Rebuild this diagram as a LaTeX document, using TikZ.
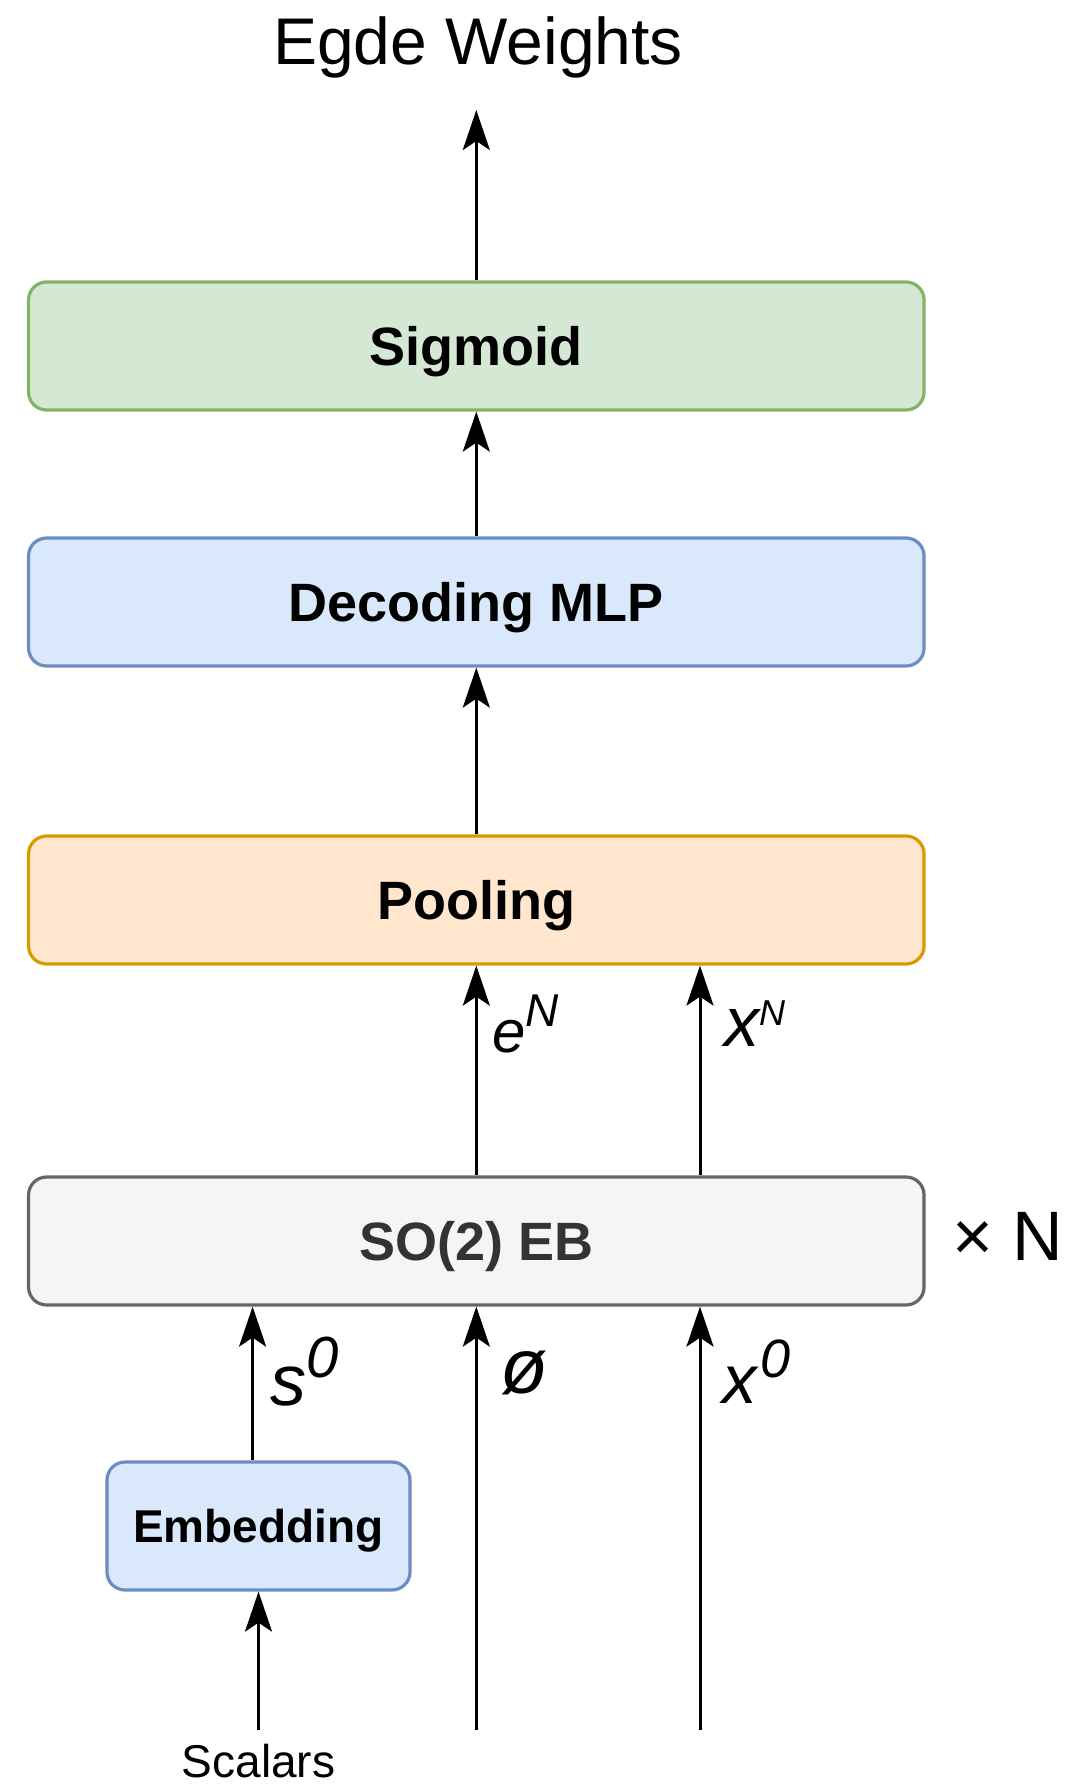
\documentclass[tikz,border=0pt]{standalone}
\usepackage{fontspec}
\setmainfont{Liberation Sans}
\usetikzlibrary{arrows.meta,calc}

\definecolor{greenFill}{HTML}{D5E8D4}
\definecolor{greenLine}{HTML}{82B366}
\definecolor{blueFill}{HTML}{DAE8FC}
\definecolor{blueLine}{HTML}{6C8EBF}
\definecolor{orangeFill}{HTML}{FFE6CC}
\definecolor{orangeLine}{HTML}{D79B00}
\definecolor{grayFill}{HTML}{F5F5F5}
\definecolor{grayLine}{HTML}{666666}
\definecolor{grayText}{HTML}{333333}

\newcommand{\fsz}[1]{\fontsize{#1}{#1}\selectfont}

\begin{document}
\begin{tikzpicture}[x=1pt,y=-1pt,
  block/.style={draw, rounded corners=18pt, line width=3.2pt,
    minimum width=895.5pt, minimum height=128pt, inner sep=0pt,
    text height=39pt, text depth=0pt, font=\fsz{54}\bfseries},
  smallblock/.style={block, minimum width=303pt, text height=33pt,
    font=\fsz{46}\bfseries},
  flow/.style={line width=3pt, -{Stealth[length=40pt,width=27pt,inset=9pt]}},
  lbl/.style={anchor=base west, inner sep=0pt, outer sep=0pt},
  plain/.style={anchor=base, inner sep=0pt, outer sep=0pt}
]
\useasboundingbox (0,0) rectangle (1066,1784);

% processing blocks
\node[block, fill=greenFill,  draw=greenLine]  (sig)  at (476.3,346)  {Sigmoid};
\node[block, fill=blueFill,   draw=blueLine]   (mlp)  at (476.3,602)  {Decoding MLP};
\node[block, fill=orangeFill, draw=orangeLine] (pool) at (476.3,900)  {Pooling};
\node[block, fill=grayFill,   draw=grayLine, text=grayText] (so) at (476.3,1241) {SO(2) EB};
\node[smallblock, fill=blueFill, draw=blueLine] (emb) at (258.5,1526) {Embedding};

% title, repetition count and input caption
\node[plain, font=\fsz{66}] (title) at (478,65) {Egde Weights};
\node[lbl, font=\fsz{70}] (rep) at (952,1260) {× N};
\node[plain, font=\fsz{46}] (scal) at (258.5,1777) {Scalars};

% column positions and free arrow ends
\coordinate (colL) at (252.6,0);
\coordinate (colR) at (700,0);
\coordinate (outT) at (476.3,110);
\coordinate (inS)  at (258.5,1730);
\coordinate (inM)  at (476.3,1730);
\coordinate (inR)  at (700,1730);

% connectors
\draw[flow] (sig.north) -- (outT);
\draw[flow] (mlp.north) -- (sig.south);
\draw[flow] (pool.north) -- (mlp.south);
\draw[flow] (so.north) -- (pool.south);
\draw[flow] (so.north -| colR) -- (pool.south -| colR);
\draw[flow] (emb.north -| colL) -- (so.south -| colL);
\draw[flow] (inM) -- (so.south);
\draw[flow] (inR) -- (so.south -| colR);
\draw[flow] (inS) -- (emb.south);

% edge labels
\node[lbl] (lblE) at (492,1052)
  {\fsz{60}\itshape e\raisebox{26pt}{\fsz{46}\itshape N}};
\node[lbl] (lblXN) at (724,1046)
  {\fsz{70}\itshape x\raisebox{21pt}{\fsz{36}\itshape N}};
\node[lbl] (lblS) at (270,1405)
  {\fsz{72}\itshape s\raisebox{28pt}{\fsz{58}\itshape 0}};
\node[lbl] (lblEmpty) at (500,1393)
  {\fsz{78}\itshape ø};
\node[lbl] (lblX0) at (722,1403)
  {\fsz{69}\itshape x\kern4pt\raisebox{26pt}{\fsz{54}\itshape 0}};
\end{tikzpicture}
\end{document}
